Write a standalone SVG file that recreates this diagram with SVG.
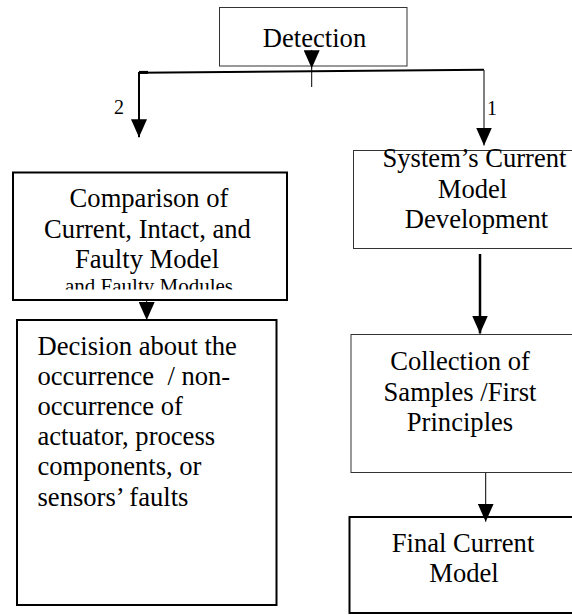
<svg xmlns="http://www.w3.org/2000/svg" width="572" height="615" viewBox="0 0 572 615" font-family="'Liberation Serif', 'Times New Roman', serif">
  <style>
    text { font-family: 'Liberation Serif', 'Times New Roman', serif; fill: #000; }
    .t { font-size: 26.6px; }
    .c { text-anchor: middle; }
    .small { font-size: 21px; }
    .num { font-size: 20px; }
    .thin { fill: #fff; stroke: #333; stroke-width: 1; }
    .thick { fill: #fff; stroke: #000; stroke-width: 2; }
    .ln { fill: none; stroke: #000; }
  </style>
  <defs>
    <marker id="head" markerUnits="userSpaceOnUse" markerWidth="18" markerHeight="16" refX="18" refY="8" orient="auto">
      <path d="M0,0 L18,8 L0,16 z" fill="#000"/>
    </marker>
    <!-- the last line of the comparison box is cut off by the frame -->
    <clipPath id="cmpClip">
      <rect x="13" y="173" width="274" height="116.5"/>
    </clipPath>
  </defs>

  <g id="detection">
    <rect class="thin" x="219.5" y="7.5" width="187.5" height="58.5"/>
    <text class="t c" x="314.5" y="46.5">Detection</text>
  </g>

  <g id="comparison">
    <rect class="thick" x="13" y="172.5" width="274" height="127.5"/>
    <text class="t c" x="149" y="206.5">Comparison of</text>
    <text class="t c" x="147.5" y="237.5">Current, Intact, and</text>
    <text class="t c" x="147" y="268">Faulty Model</text>
    <g clip-path="url(#cmpClip)">
      <text class="small c" x="149" y="293">and Faulty Modules</text>
    </g>
  </g>

  <g id="decision">
    <rect class="thick" x="17" y="320" width="259.5" height="285"/>
    <text class="t" x="37.5" y="355">Decision about the</text>
    <text class="t" x="37.5" y="385" xml:space="preserve">occurrence  / non-</text>
    <text class="t" x="37.5" y="415">occurrence of</text>
    <text class="t" x="37.5" y="445">actuator, process</text>
    <text class="t" x="37.5" y="475">components, or</text>
    <text class="t" x="37.5" y="506">sensors’ faults</text>
  </g>

  <g id="current-model">
    <rect class="thin" x="353.5" y="150.5" width="230" height="98"/>
    <text class="t c" x="474.5" y="167">System’s Current</text>
    <text class="t c" x="472.5" y="197.5">Model</text>
    <text class="t c" x="476.5" y="227.5">Development</text>
  </g>

  <g id="collection">
    <rect class="thin" x="351" y="334.5" width="232" height="138"/>
    <text class="t c" x="460" y="369.5">Collection of</text>
    <text class="t c" x="460" y="400.5">Samples /First</text>
    <text class="t c" x="460" y="431">Principles</text>
  </g>

  <g id="final-model">
    <rect class="thick" x="349.5" y="517" width="234" height="96"/>
    <text class="t c" x="463" y="551.5">Final Current</text>
    <text class="t c" x="464" y="581.5">Model</text>
  </g>

  <g id="connectors">
    <path class="ln" d="M311.7,50 L311.7,68.3" stroke-width="1" marker-end="url(#head)"/>
    <path class="ln" d="M311.7,68 L311.7,87" stroke-width="1"/>
    <path class="ln" d="M139,72.7 L484,69.8" stroke-width="2"/>
    <path class="ln" d="M139,72.4 L148,72.4" stroke-width="3"/>
    <path class="ln" d="M139,72 L139,137.3" stroke-width="2" marker-end="url(#head)"/>
    <path class="ln" d="M484,70 L484,145.5" stroke-width="1" marker-end="url(#head)"/>
    <path class="ln" d="M146.7,301 L146.7,320" stroke-width="1" marker-end="url(#head)"/>
    <path class="ln" d="M480,254 L480,333.5" stroke-width="2.5" marker-end="url(#head)"/>
    <path class="ln" d="M485.7,473 L485.7,521.7" stroke-width="1" marker-end="url(#head)"/>
    <text class="num" x="114" y="114">2</text>
    <text class="num" x="487" y="114.5">1</text>
  </g>
</svg>
